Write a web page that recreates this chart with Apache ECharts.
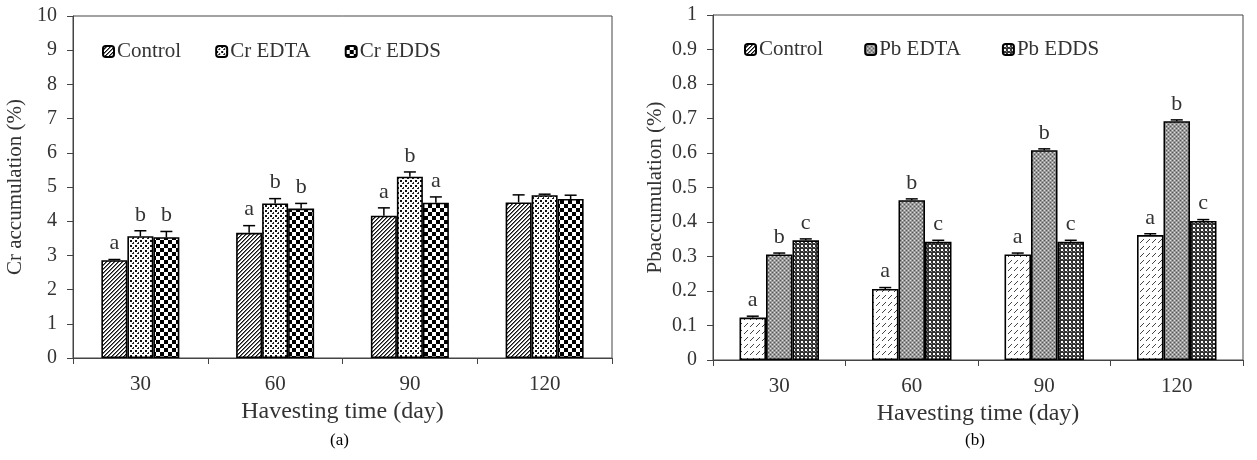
<!DOCTYPE html>
<html><head><meta charset="utf-8">
<script src="https://cdn.jsdelivr.net/npm/echarts@6/dist/echarts.min.js"></script>
<style>html,body{margin:0;padding:0;background:#fff}#c{width:1257px;height:460px}</style>
</head><body><div id="c"></div>
<script>
// ---- data ----
const categories = ['30', '60', '90', '120'];
const crNames = ['Control', 'Cr EDTA', 'Cr EDDS'];
const crControl = [2.86, 3.66, 4.16, 4.55];
const crEdta = [3.56, 4.52, 5.30, 4.76];
const crEdds = [3.53, 4.37, 4.54, 4.65];
const crControlErr = [0.02, 0.21, 0.23, 0.22];
const crEdtaErr = [0.16, 0.14, 0.14, 0.03];
const crEddsErr = [0.17, 0.15, 0.17, 0.11];
const crControlLetters = ['a', 'a', 'a', ''];
const crEdtaLetters = ['b', 'b', 'b', ''];
const crEddsLetters = ['b', 'b', 'a', ''];

const pbNames = ['Control', 'Pb EDTA', 'Pb EDDS'];
const pbControl = [0.123, 0.206, 0.306, 0.362];
const pbEdta = [0.306, 0.463, 0.608, 0.692];
const pbEdds = [0.347, 0.343, 0.343, 0.403];
const pbControlErr = [0.004, 0.004, 0.004, 0.004];
const pbEdtaErr = [0.004, 0.004, 0.004, 0.004];
const pbEddsErr = [0.004, 0.004, 0.004, 0.004];
const pbControlLetters = ['a', 'a', 'a', 'a'];
const pbEdtaLetters = ['b', 'b', 'b', 'b'];
const pbEddsLetters = ['c', 'c', 'c', 'c'];

const crTicks = {min: 0, max: 10, interval: 1};
const pbTicks = {min: 0, max: 1, interval: 0.1};

// ---- patterns ----
function mk(w, h, draw) {
  const c = document.createElement('canvas'); c.width = w; c.height = h;
  const g = c.getContext('2d'); g.fillStyle = '#fff'; g.fillRect(0, 0, w, h);
  draw(g); return c;
}
const patHatch = mk(4, 4, g => {
  g.fillStyle = '#111';
  for (let i = 0; i < 4; i++) { g.fillRect(3 - i, i, 1, 1); }
  g.fillStyle = 'rgba(0,0,0,0.55)';
  for (let i = 0; i < 4; i++) { g.fillRect((4 - i) % 4, i, 1, 1); }
});
const patDots = mk(5, 5, g => {
  g.fillStyle = '#111';
  g.fillRect(0, 0, 2, 2);
  g.fillStyle = '#222';
  g.fillRect(3, 2, 1, 2); g.fillRect(2, 3, 2, 1);
});
const patChecker = mk(8, 8, g => {
  g.fillStyle = '#000';
  g.fillRect(0, 0, 4, 4); g.fillRect(4, 4, 4, 4);
});
const patDash = mk(6, 7, g => {
  g.fillStyle = '#444';
  g.fillRect(0, 4, 1, 1); g.fillRect(1, 3, 1, 1); g.fillRect(2, 2, 1, 1); g.fillRect(3, 1, 1, 1);
});
const patGrey = mk(4, 4, g => {
  g.fillStyle = '#999'; g.fillRect(0, 0, 4, 4);
  g.fillStyle = '#555'; g.fillRect(0, 0, 1, 1); g.fillRect(2, 2, 1, 1);
  g.fillStyle = '#ddd'; g.fillRect(2, 0, 1, 1); g.fillRect(0, 2, 1, 1);
});
const patDark = mk(4, 4, g => {
  g.fillStyle = '#333'; g.fillRect(0, 0, 4, 4);
  g.fillStyle = '#fff'; g.fillRect(1, 1, 2, 2);
  g.fillStyle = '#888'; g.fillRect(3, 3, 1, 1);
});

const FONT = 'Liberation Serif';
const TXT = '#333';
const AX = '#444';

function barSeries(name, data, pat, gi, bw) {
  return {
    type: 'bar', name, data, xAxisIndex: gi, yAxisIndex: gi,
    barWidth: bw, barGap: '0%',
    itemStyle: {color: {image: pat, repeat: 'repeat'}, borderColor: '#000', borderWidth: 1.6},
    emphasis: {disabled: true}, z: 2
  };
}
function errSeries(vals, errs, letters, idx, gi, bw) {
  const d = vals.map((v, i) => [i, v, errs[i], letters[i]]);
  return {
    type: 'custom', xAxisIndex: gi, yAxisIndex: gi, data: d, z: 5, silent: true,
    renderItem: function (params, api) {
      const i = api.value(0), v = api.value(1), e = api.value(2);
      const letter = d[params.dataIndex][3];
      const top = api.coord([i, v]);
      const cap = api.coord([i, v + e]);
      const x = top[0] + (idx - 1) * bw;
      const children = [
        {type: 'line', shape: {x1: x, y1: top[1], x2: x, y2: cap[1]}, style: {stroke: '#000', lineWidth: 1.5}},
        {type: 'line', shape: {x1: x - 6, y1: cap[1], x2: x + 6, y2: cap[1]}, style: {stroke: '#000', lineWidth: 1.5}}
      ];
      if (letter) children.push({type: 'text', style: {text: letter, x: x, y: cap[1] - 5, align: 'center', verticalAlign: 'bottom', font: '22px "' + FONT + '"', fill: TXT}});
      return {type: 'group', children};
    }
  };
}

const crBW = 26, pbBW = 26.5;
const option = {
  animation: false,
  textStyle: {fontFamily: FONT},
  grid: [
    {left: 73, top: 16, width: 539, height: 342, show: true, borderColor: AX, borderWidth: 1},
    {left: 713, top: 15, width: 530, height: 345, show: true, borderColor: AX, borderWidth: 1}
  ],
  legend: [
    {data: crNames.map(n => ({name: n})), left: 97, top: 36, itemWidth: 11, itemHeight: 11, itemGap: 34,
     textStyle: {fontFamily: FONT, fontSize: 21, color: TXT, padding: [0, 0, 0, -2]}, selectedMode: false},
    {data: pbNames.map(n => ({name: n})), left: 739, top: 34, itemWidth: 11, itemHeight: 11, itemGap: 41,
     textStyle: {fontFamily: FONT, fontSize: 21, color: TXT, padding: [0, 0, 0, -2]}, selectedMode: false}
  ],
  xAxis: [0, 1].map(gi => ({
    type: 'category', gridIndex: gi, data: categories,
    name: 'Havesting time (day)', nameLocation: 'middle', nameGap: 39,
    nameTextStyle: {fontFamily: FONT, fontSize: 24, color: TXT},
    axisLine: {lineStyle: {color: AX, width: 1}},
    axisTick: {show: true, length: 6, lineStyle: {color: AX}},
    axisLabel: {fontFamily: FONT, fontSize: 21, color: TXT, margin: 16},
    splitLine: {show: false}
  })),
  yAxis: [
    {type: 'value', gridIndex: 0, min: crTicks.min, max: crTicks.max, interval: crTicks.interval,
     name: 'Cr accumulation (%)', nameLocation: 'middle', nameGap: 47, nameRotate: 90,
     nameTextStyle: {fontFamily: FONT, fontSize: 21, color: TXT},
     axisLine: {show: true, lineStyle: {color: AX}}, axisTick: {show: true, length: 6, lineStyle: {color: AX}},
     axisLabel: {fontFamily: FONT, fontSize: 20, color: TXT, margin: 16}, splitLine: {show: false}},
    {type: 'value', gridIndex: 1, min: pbTicks.min, max: pbTicks.max, interval: pbTicks.interval,
     name: 'Pbaccumulation (%)', nameLocation: 'middle', nameGap: 47, nameRotate: 90,
     nameTextStyle: {fontFamily: FONT, fontSize: 21, color: TXT},
     axisLine: {show: true, lineStyle: {color: AX}}, axisTick: {show: true, length: 6, lineStyle: {color: AX}},
     axisLabel: {fontFamily: FONT, fontSize: 20, color: TXT, margin: 16, formatter: v => String(Math.round(v * 10) / 10)}, splitLine: {show: false}}
  ],
  graphic: [
    {type: 'text', left: 330, top: 432, style: {text: '(a)', font: '17px "' + FONT + '"', fill: '#000'}},
    {type: 'text', left: 965, top: 432, style: {text: '(b)', font: '17px "' + FONT + '"', fill: '#000'}}
  ],
  series: [
    barSeries(crNames[0], crControl, patHatch, 0, crBW),
    barSeries(crNames[1], crEdta, patDots, 0, crBW),
    barSeries(crNames[2], crEdds, patChecker, 0, crBW),
    errSeries(crControl, crControlErr, crControlLetters, 0, 0, crBW),
    errSeries(crEdta, crEdtaErr, crEdtaLetters, 1, 0, crBW),
    errSeries(crEdds, crEddsErr, crEddsLetters, 2, 0, crBW),
    barSeries(pbNames[0], pbControl, patDash, 1, pbBW),
    barSeries(pbNames[1], pbEdta, patGrey, 1, pbBW),
    barSeries(pbNames[2], pbEdds, patDark, 1, pbBW),
    errSeries(pbControl, pbControlErr, pbControlLetters, 0, 1, pbBW),
    errSeries(pbEdta, pbEdtaErr, pbEdtaLetters, 1, 1, pbBW),
    errSeries(pbEdds, pbEddsErr, pbEddsLetters, 2, 1, pbBW)
  ]
};
const chart = echarts.init(document.getElementById('c'), null, {renderer: 'canvas'});
chart.setOption(option);
</script></body></html>
